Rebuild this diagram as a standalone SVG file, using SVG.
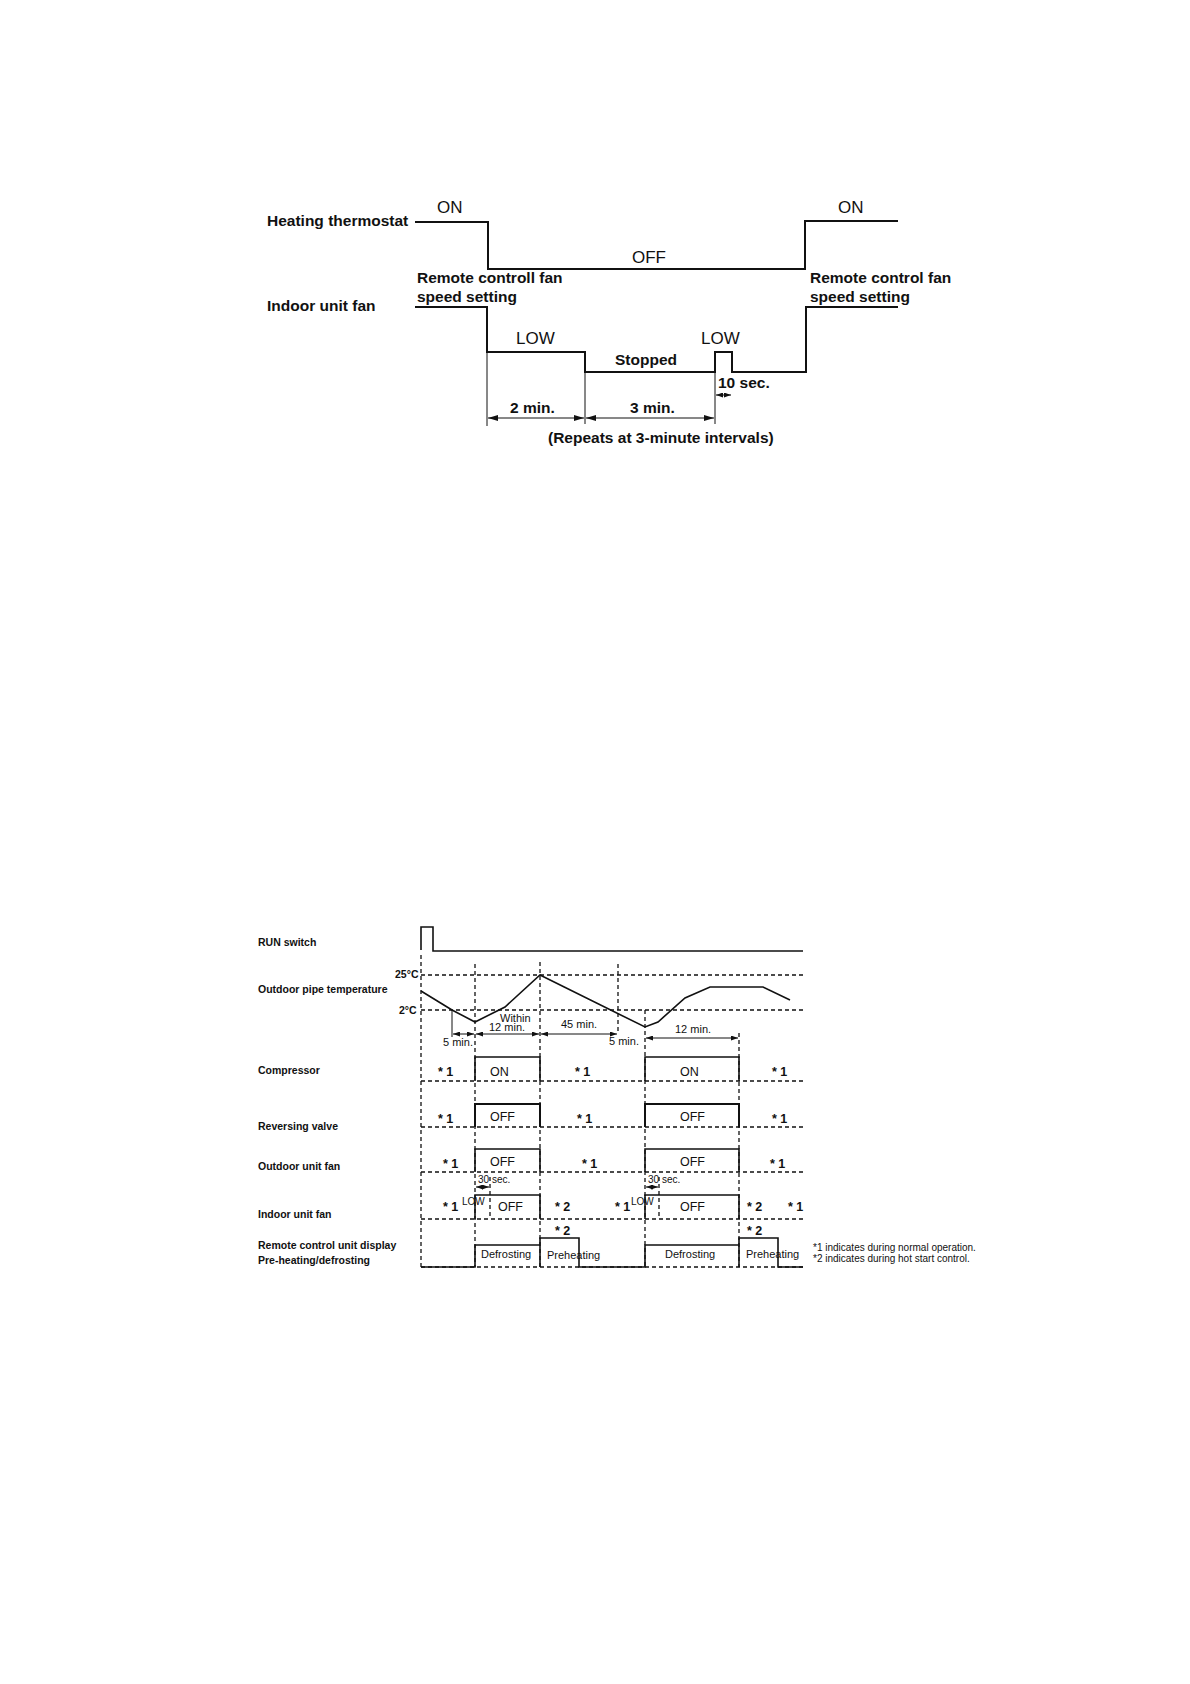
<svg xmlns="http://www.w3.org/2000/svg" width="1190" height="1684" viewBox="0 0 1190 1684">
<style>
text{font-family:"Liberation Sans",Arial,sans-serif;fill:#111}
.L{font-size:15.5px;font-weight:bold}
.R{font-size:17px}
.s{font-size:10.5px;font-weight:bold}
.b{font-size:12.5px}
.st{font-size:12.5px;font-weight:bold}
.m{font-size:11px}
.f{font-size:10px}
.sig{stroke:#111;stroke-width:2;fill:none}
.sig2{stroke:#111;stroke-width:1.6;fill:none}
.thin{stroke:#111;stroke-width:1;fill:none}
.dash{stroke:#111;stroke-width:1.3;stroke-dasharray:4 3;fill:none}
.dim{stroke:#111;stroke-width:1;fill:none;marker-start:url(#ah);marker-end:url(#ah)}
.dim2{stroke:#111;stroke-width:1;fill:none;marker-start:url(#as);marker-end:url(#as)}
</style>
<defs>
<marker id="ah" viewBox="0 0 10 6" refX="10" refY="3" markerWidth="10" markerHeight="6" markerUnits="userSpaceOnUse" orient="auto-start-reverse"><path d="M0,0 L10,3 L0,6 z" fill="#111"/></marker>
<marker id="as" viewBox="0 0 7 5" refX="7" refY="2.5" markerWidth="7" markerHeight="5" markerUnits="userSpaceOnUse" orient="auto-start-reverse"><path d="M0,0 L7,2.5 L0,5 z" fill="#111"/></marker>
</defs>
<rect width="1190" height="1684" fill="#fff"/>

<!-- ===== Top chart ===== -->
<g id="top-chart">
<g id="heating-thermostat">
<text class="L" x="267" y="226">Heating thermostat</text>
<path class="sig" d="M415,222 H488 V269 H805 V221 H898"/>
<text class="R" x="437" y="213">ON</text>
<text class="R" x="632" y="263">OFF</text>
<text class="R" x="838" y="213">ON</text>
</g>
<g id="indoor-unit-fan-top">
<text class="L" x="267" y="311">Indoor unit fan</text>
<path class="sig" d="M415,307 H487 V352 H585 V372 H715 V352 H732 V372 H806 V307 H898"/>
<text class="L" x="417" y="283">Remote controll fan</text>
<text class="L" x="417" y="302">speed setting</text>
<text class="L" x="810" y="283">Remote control fan</text>
<text class="L" x="810" y="302">speed setting</text>
<text class="R" x="516" y="344">LOW</text>
<text class="R" x="701" y="344">LOW</text>
<text class="L" x="615" y="365">Stopped</text>
</g>
<g id="top-dimensions">
<path class="thin" d="M487,352 V426 M585,372 V424 M715,372 V424"/>
<line class="dim" x1="488" y1="418" x2="584" y2="418"/>
<line class="dim" x1="586" y1="418" x2="714" y2="418"/>
<line class="dim2" x1="716" y1="395" x2="731" y2="395"/>
<text class="L" x="718" y="388">10 sec.</text>
<text class="L" x="510" y="413">2 min.</text>
<text class="L" x="630" y="413">3 min.</text>
<text class="L" x="548" y="443">(Repeats at 3-minute intervals)</text>
</g>
</g>

<!-- ===== Bottom chart ===== -->
<g id="bottom-chart">
<g id="labels">
<text class="s" x="258" y="946">RUN switch</text>
<text class="s" x="258" y="993">Outdoor pipe temperature</text>
<text class="s" x="258" y="1074">Compressor</text>
<text class="s" x="258" y="1130">Reversing valve</text>
<text class="s" x="258" y="1170">Outdoor unit fan</text>
<text class="s" x="258" y="1218">Indoor unit fan</text>
<text class="s" x="258" y="1249">Remote control unit display</text>
<text class="s" x="258" y="1264">Pre-heating/defrosting</text>
</g>
<g id="gridlines">
<path class="dash" d="M421,955 V1267 M475,964 V1267 M540,962 V1267 M618,964 V1033 M645,1010 V1267 M739,1033 V1267 M490,1177 V1219 M659,1177 V1219"/>
<path class="dash" d="M421,975 H803 M421,1010 H803 M421,1081 H803 M421,1127 H803 M421,1172 H803 M421,1219 H803 M421,1267 H803"/>
</g>
<g id="run-switch">
<path class="sig2" d="M421,950 V927 H433 V951 H803"/>
</g>
<g id="outdoor-pipe-temperature">
<text class="s" x="395" y="978">25°C</text>
<text class="s" x="399" y="1014">2°C</text>
<polyline class="sig2" points="421,991 452,1010 475,1022 505,1007 540,975 645,1027 658,1022 685,998 710,987 763,987 790,1000"/>
<path class="thin" d="M452,1010 V1037"/>
<line class="dim2" x1="453" y1="1034" x2="474" y2="1034"/>
<line class="dim2" x1="476" y1="1034" x2="539" y2="1034"/>
<line class="dim2" x1="541" y1="1034" x2="617" y2="1034"/>
<line class="dim2" x1="646" y1="1038" x2="738" y2="1038"/>
<text class="m" x="500" y="1022">Within</text>
<text class="m" x="489" y="1031">12 min.</text>
<text class="m" x="443" y="1046">5 min.</text>
<text class="m" x="561" y="1028">45 min.</text>
<text class="m" x="609" y="1045">5 min.</text>
<text class="m" x="675" y="1033">12 min.</text>
</g>
<g id="compressor">
<path class="sig2" d="M475,1081 V1057 H540 V1081 M645,1081 V1057 H739 V1081"/>
<text class="st" x="438" y="1076">* 1</text>
<text class="b" x="490" y="1076">ON</text>
<text class="st" x="575" y="1076">* 1</text>
<text class="b" x="680" y="1076">ON</text>
<text class="st" x="772" y="1076">* 1</text>
</g>
<g id="reversing-valve">
<path class="sig" d="M475,1127 V1104 H540 V1127 M645,1127 V1104 H739 V1127"/>
<text class="st" x="438" y="1123">* 1</text>
<text class="b" x="490" y="1121">OFF</text>
<text class="st" x="577" y="1123">* 1</text>
<text class="b" x="680" y="1121">OFF</text>
<text class="st" x="772" y="1123">* 1</text>
</g>
<g id="outdoor-unit-fan">
<path class="sig2" d="M475,1172 V1149 H540 V1172 M645,1172 V1149 H739 V1172"/>
<text class="st" x="443" y="1168">* 1</text>
<text class="b" x="490" y="1166">OFF</text>
<text class="st" x="582" y="1168">* 1</text>
<text class="b" x="680" y="1166">OFF</text>
<text class="st" x="770" y="1168">* 1</text>
<line class="dim2" x1="476" y1="1187" x2="489" y2="1187"/>
<line class="dim2" x1="646" y1="1187" x2="658" y2="1187"/>
<text class="f" x="478" y="1183">30 sec.</text>
<text class="f" x="648" y="1183">30 sec.</text>
</g>
<g id="indoor-unit-fan">
<path class="sig2" d="M475,1219 V1195 H540 V1219 M645,1219 V1195 H739 V1219"/>
<text class="st" x="443" y="1211">* 1</text>
<text class="f" x="462" y="1205">LOW</text>
<text class="b" x="498" y="1211">OFF</text>
<text class="st" x="555" y="1211">* 2</text>
<text class="st" x="615" y="1211">* 1</text>
<text class="f" x="631" y="1205">LOW</text>
<text class="b" x="680" y="1211">OFF</text>
<text class="st" x="747" y="1211">* 2</text>
<text class="st" x="788" y="1211">* 1</text>
</g>
<g id="remote-display">
<path class="sig2" d="M421,1267 H475 V1245 H540 V1238 H579 V1267 H645 V1245 H739 V1238 H778 V1267 H803 M540,1245 V1267 M739,1245 V1267"/>
<text class="st" x="555" y="1235">* 2</text>
<text class="st" x="747" y="1235">* 2</text>
<text class="m" x="481" y="1258">Defrosting</text>
<text class="m" x="547" y="1259">Preheating</text>
<text class="m" x="665" y="1258">Defrosting</text>
<text class="m" x="746" y="1258">Preheating</text>
</g>
<g id="footnotes">
<text class="f" x="813" y="1251">*1 indicates during normal operation.</text>
<text class="f" x="813" y="1262">*2 indicates during hot start control.</text>
</g>
</g>
</svg>
